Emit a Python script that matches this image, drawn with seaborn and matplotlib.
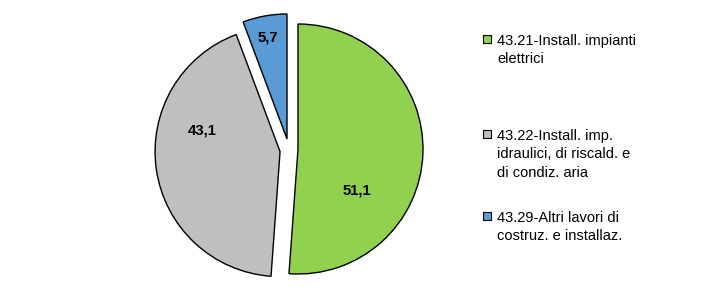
import matplotlib
matplotlib.use("Agg")
import matplotlib.pyplot as plt
import seaborn as sns
import numpy as np
from matplotlib.patches import Rectangle

sns.set_theme(style="white")
plt.rcParams['font.family'] = ['Liberation Sans', 'DejaVu Sans']

categories = ["43.21-Install. impianti\nelettrici",
              "43.22-Install. imp.\nidraulici, di riscald. e\ndi condiz. aria",
              "43.29-Altri lavori di\ncostruz. e installaz."]
values = [51.1, 43.1, 5.7]
value_labels = ["51,1", "43,1", "5,7"]
colors = ["#92D050", "#BFBFBF", "#5B9BD5"]
explode = [0.0, 0.145, 0.0]
# extra offset of the small slice (data units, as in the original chart)
blue_offset = (-0.088, 0.08)

W, H = 705, 300
fig = plt.figure(figsize=(W / 100, H / 100), dpi=100)

R = 125.0
cx, cy = 298.0, 149.0
L = 1.18
size = 2 * L * R
ax = fig.add_axes([(cx - size / 2) / W, (H - cy - size / 2) / H, size / W, size / H])
wedges, _ = ax.pie(values, colors=colors, explode=explode, startangle=90,
                   counterclock=False,
                   wedgeprops=dict(edgecolor="black", linewidth=1.0))
wedges[2].set_center(blue_offset)
ax.set_xlim(-L, L)
ax.set_ylim(-L, L)
ax.set_aspect('equal')
ax.axis('off')

# value labels: (angle in degrees, radius) relative to each wedge centre
label_place = [(-34.8, 0.575), (164.6, 0.65), (100.6, 0.83)]
for w, lab, (ang, rr) in zip(wedges, value_labels, label_place):
    cxw, cyw = w.center
    x = cxw + rr * np.cos(np.deg2rad(ang))
    y = cyw + rr * np.sin(np.deg2rad(ang))
    ax.text(x, y, lab, ha='center', va='center', fontsize=10.7, fontweight='bold',
            color='black')

# legend drawn manually: marker aligned with first line
fs = 10.5
line_h = 18.3
entry_baselines = [45, 140, 222]
for cat, col, b0 in zip(categories, colors, entry_baselines):
    fig.add_artist(Rectangle((483 / W, (H - b0 + 2.5) / H), 8 / W, 8 / H,
                             transform=fig.transFigure, facecolor=col,
                             edgecolor='black', linewidth=0.8))
    for i, line in enumerate(cat.split("\n")):
        fig.text(497 / W, (H - (b0 + i * line_h)) / H, line, ha='left',
                 va='baseline', fontsize=fs, color='black')

fig.savefig("out.png", dpi=100)
